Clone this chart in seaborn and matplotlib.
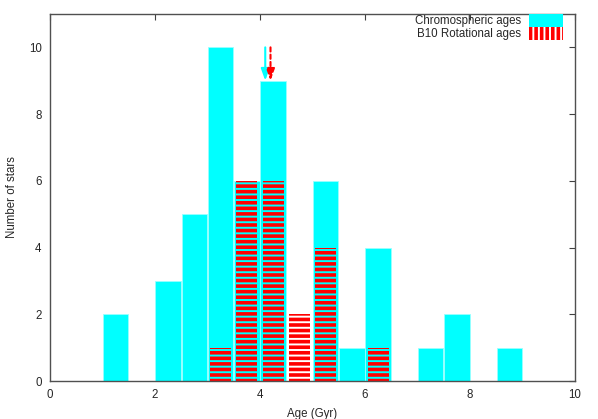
# Histogram of stellar ages: chromospheric vs B10 rotational
import numpy as np
import matplotlib
matplotlib.use('Agg')
import matplotlib.pyplot as plt
import seaborn as sns
from matplotlib.patches import Patch

# bin starts (Gyr), width 0.5
bin_starts = [1.0, 1.5, 2.0, 2.5, 3.0, 3.5, 4.0, 4.5, 5.0, 5.5, 6.0, 6.5, 7.0, 7.5, 8.0, 8.5]
chromo_counts = [2, 0, 3, 5, 10, 6, 9, 0, 6, 1, 4, 0, 1, 2, 0, 1]
rot_counts = [0, 0, 0, 0, 1, 6, 6, 2, 4, 0, 1, 0, 0, 0, 0, 0]
chromo_mean = 4.1
rot_mean = 4.2
bin_width = 0.5

sns.set_style('white')
plt.rcParams['font.family'] = ['Liberation Sans', 'DejaVu Sans']
plt.rcParams['hatch.linewidth'] = 2.6

centers = np.array(bin_starts) + bin_width / 2

fig = plt.figure(figsize=(5.98, 4.19), dpi=100)
ax = fig.add_axes([50 / 598, 38 / 419, 525 / 598, 367 / 419])

# Chromospheric ages (cyan)
sns.histplot(x=centers, weights=chromo_counts, binwidth=bin_width, binrange=(1, 9),
             shrink=0.97, color='cyan', alpha=1, edgecolor='#9ff', linewidth=0.6, ax=ax)
n_cyan = len(ax.patches)

# Rotational ages (red striped)
sns.histplot(x=centers, weights=rot_counts, binwidth=bin_width, binrange=(1, 9),
             shrink=0.8, ax=ax)
for p in ax.patches[n_cyan:]:
    p.set_facecolor('none')
    p.set_edgecolor('red')
    p.set_hatch('---')
    p.set_linewidth(0)
    p.set_alpha(1)

# mean age arrows
arrow_style = '-|>,head_width=0.25,head_length=0.7'
ax.annotate('', xy=(chromo_mean, 9), xytext=(chromo_mean, 10),
            arrowprops=dict(arrowstyle=arrow_style, color='cyan', lw=1.5,
                            shrinkA=0, shrinkB=0, mutation_scale=10))
ax.annotate('', xy=(rot_mean, 9), xytext=(rot_mean, 10),
            arrowprops=dict(arrowstyle=arrow_style, color='red', lw=1.5,
                            shrinkA=0, shrinkB=0, mutation_scale=10,
                            linestyle=(0, (2, 1.5))))

ax.set_xlim(0, 10)
ax.set_ylim(0, 11)
ax.set_xticks([0, 2, 4, 6, 8, 10])
ax.set_yticks([0, 2, 4, 6, 8, 10])
ax.set_xlabel('Age (Gyr)', fontsize=8.3, labelpad=5)
ax.set_ylabel('Number of stars', fontsize=8.3, labelpad=8)
ax.tick_params(direction='in', length=4, width=0.8, color='#404040', labelsize=8.3,
               top=True, right=True, pad=6)
for s in ax.spines.values():
    s.set_color('#505050')
    s.set_linewidth(1)

handles = [Patch(facecolor='cyan', edgecolor='cyan', lw=0),
           Patch(facecolor='none', edgecolor='red', hatch='|||', lw=0)]
ax.legend(handles, ['Chromospheric ages', 'B10 Rotational ages'], loc='upper right',
          bbox_to_anchor=(0.977, 1.0),
          frameon=False, markerfirst=False, fontsize=8.3, handlelength=2.9, handleheight=1.3,
          labelspacing=0.0, handletextpad=0.7, borderaxespad=0.0, borderpad=0.0)

fig.savefig('out.png', dpi=100)
